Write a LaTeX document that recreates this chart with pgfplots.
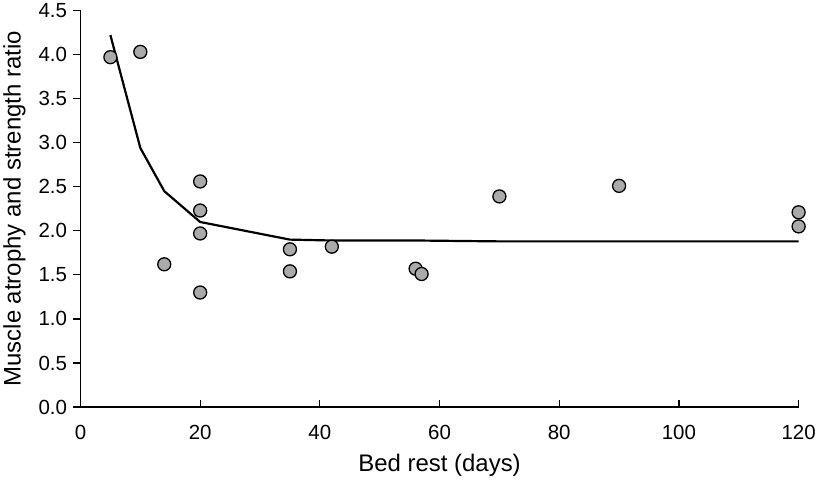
\documentclass[border=0pt]{standalone}
\usepackage{fontspec}
\setmainfont{Liberation Sans}
\usepackage{pgfplots}
\pgfplotsset{compat=1.18}
\definecolor{markgray}{RGB}{170,170,170}
\begin{document}
\begin{tikzpicture}
\begin{axis}[
  scale only axis,
  width=717bp, height=396bp,
  xmin=0, xmax=120, ymin=0, ymax=4.5,
  axis x line*=bottom, axis y line*=left,
  axis line style={line width=1.5pt, -},
  xtick={0,20,...,120}, ytick={0,0.5,...,4.5},
  /pgf/number format/assume math mode=true,
  x tick style={line width=1.2pt, black}, y tick style={line width=1.2pt, black},
  major tick length=7bp,
  xtick align=inside, ytick align=outside,
  tick label style={font=\fontsize{20.5}{22}\selectfont},
  yticklabel style={xshift=-3bp, /pgf/number format/.cd, fixed, fixed zerofill, precision=1},
  xticklabel style={yshift=-15bp},
  label style={font=\fontsize{24}{26}\selectfont},
  xlabel={Bed rest (days)},
  ylabel={Muscle atrophy and strength ratio},
  xlabel style={yshift=-7bp},
  ylabel style={yshift=6bp},
  clip=false,
]
\addplot[black, line width=2.2pt, no markers] coordinates {
(5,4.22) (10,2.94) (14,2.45) (20,2.10) (35,1.90) (42,1.89) (56,1.89) (70,1.88) (90,1.88) (120,1.88)};
\addplot[only marks, mark=*, mark size=6.5bp, mark options={fill=markgray, draw=black, line width=1.3pt}] coordinates {
(5,3.97) (10,4.03) (14,1.62) (20,2.56) (20,2.23) (20,1.97) (20,1.30) (35,1.79) (35,1.54) (42,1.82) (56,1.57) (57,1.51) (70,2.39) (90,2.51) (120,2.21) (120,2.05)};
\end{axis}
\end{tikzpicture}
\end{document}
